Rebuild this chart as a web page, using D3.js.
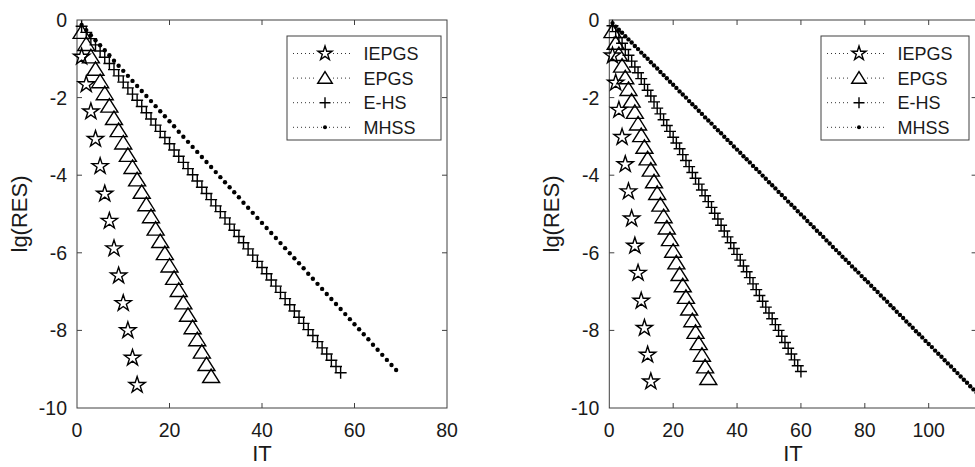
<!DOCTYPE html>
<html>
<head>
<meta charset="utf-8">
<script src="https://cdn.jsdelivr.net/npm/d3@7"></script>
<style>
  body { margin: 0; background: white; }
  svg { display: block; font-family: "Liberation Sans", Arial, sans-serif; }
</style>
</head>
<body>
<div id="winArea"></div>
<script>
// series names and tick values
const seriesNames = ["IEPGS", "EPGS", "E-HS", "MHSS"];
const yTicks = [0, -2, -4, -6, -8, -10];
const xTicksLeft = [0, 20, 40, 60, 80];
const xTicksRight = [0, 20, 40, 60, 80, 100];

// lg(RES) per iteration (iteration = index + 1), left panel
const iepgsLeft = [-0.95, -1.66, -2.36, -3.07, -3.77, -4.48, -5.18, -5.89, -6.59, -7.30, -8.00, -8.71, -9.41];
const epgsLeft = [-0.32, -0.63, -0.95, -1.27, -1.59, -1.90, -2.22, -2.54, -2.85, -3.17, -3.49, -3.80, -4.12, -4.44, -4.76,
  -5.07, -5.39, -5.71, -6.02, -6.34, -6.66, -6.97, -7.29, -7.61, -7.93, -8.24, -8.56, -8.88, -9.19];
const ehsLeft = [-0.16, -0.32, -0.48, -0.64, -0.80, -0.96, -1.12, -1.28, -1.44, -1.60, -1.75, -1.91, -2.07, -2.23, -2.39,
  -2.55, -2.71, -2.87, -3.03, -3.19, -3.35, -3.51, -3.67, -3.83, -3.99, -4.15, -4.31, -4.47, -4.63, -4.79,
  -4.94, -5.10, -5.26, -5.42, -5.58, -5.74, -5.90, -6.06, -6.22, -6.38, -6.54, -6.70, -6.86, -7.02, -7.18,
  -7.34, -7.50, -7.66, -7.82, -7.98, -8.13, -8.29, -8.45, -8.61, -8.77, -8.93, -9.09];
const mhssLeft = [-0.13, -0.26, -0.39, -0.52, -0.65, -0.78, -0.91, -1.05, -1.18, -1.31, -1.44, -1.57, -1.70, -1.83, -1.96,
  -2.09, -2.22, -2.35, -2.48, -2.61, -2.74, -2.88, -3.01, -3.14, -3.27, -3.40, -3.53, -3.66, -3.79, -3.92,
  -4.05, -4.18, -4.31, -4.44, -4.57, -4.71, -4.84, -4.97, -5.10, -5.23, -5.36, -5.49, -5.62, -5.75, -5.88,
  -6.01, -6.14, -6.27, -6.40, -6.54, -6.67, -6.80, -6.93, -7.06, -7.19, -7.32, -7.45, -7.58, -7.71, -7.84,
  -7.97, -8.10, -8.23, -8.37, -8.50, -8.63, -8.76, -8.89, -9.02];

// right panel
const iepgsRight = [-0.92, -1.62, -2.32, -3.02, -3.72, -4.42, -5.12, -5.82, -6.52, -7.24, -7.94, -8.63, -9.32];
const epgsRight = [-0.30, -0.60, -0.89, -1.19, -1.49, -1.79, -2.09, -2.38, -2.68, -2.98, -3.28, -3.58, -3.87, -4.17, -4.47,
  -4.77, -5.07, -5.36, -5.66, -5.96, -6.26, -6.56, -6.85, -7.15, -7.45, -7.75, -8.05, -8.34, -8.64, -8.94, -9.24];
const ehsRight = [-0.15, -0.30, -0.45, -0.60, -0.76, -0.91, -1.06, -1.21, -1.36, -1.51, -1.66, -1.81, -1.96, -2.11, -2.27,
  -2.42, -2.57, -2.72, -2.87, -3.02, -3.17, -3.32, -3.47, -3.62, -3.78, -3.93, -4.08, -4.23, -4.38, -4.53,
  -4.68, -4.83, -4.98, -5.13, -5.29, -5.44, -5.59, -5.74, -5.89, -6.04, -6.19, -6.34, -6.49, -6.64, -6.80,
  -6.95, -7.10, -7.25, -7.40, -7.55, -7.70, -7.85, -8.00, -8.15, -8.31, -8.46, -8.61, -8.76, -8.91, -9.06];
const mhssRight = [-0.08, -0.17, -0.25, -0.33, -0.42, -0.50, -0.58, -0.67, -0.75, -0.84, -0.92, -1.00, -1.09, -1.17, -1.25,
  -1.34, -1.42, -1.50, -1.59, -1.67, -1.75, -1.84, -1.92, -2.00, -2.09, -2.17, -2.25, -2.34, -2.42, -2.51,
  -2.59, -2.67, -2.76, -2.84, -2.92, -3.01, -3.09, -3.17, -3.26, -3.34, -3.42, -3.51, -3.59, -3.67, -3.76,
  -3.84, -3.92, -4.01, -4.09, -4.18, -4.26, -4.34, -4.43, -4.51, -4.59, -4.68, -4.76, -4.84, -4.93, -5.01,
  -5.09, -5.18, -5.26, -5.34, -5.43, -5.51, -5.59, -5.68, -5.76, -5.85, -5.93, -6.01, -6.10, -6.18, -6.26,
  -6.35, -6.43, -6.51, -6.60, -6.68, -6.76, -6.85, -6.93, -7.01, -7.10, -7.18, -7.26, -7.35, -7.43, -7.52,
  -7.60, -7.68, -7.77, -7.85, -7.93, -8.02, -8.10, -8.18, -8.27, -8.35, -8.43, -8.52, -8.60, -8.68, -8.77,
  -8.85, -8.93, -9.02, -9.10, -9.19, -9.27, -9.35, -9.44, -9.52, -9.60];

const W = 975, H = 467;
const axisColor = "#404040";
const textColor = "#1a1a1a";

const svg = d3.select("#winArea")
  .append("svg")
  .attr("width", W)
  .attr("height", H);

// marker shapes (MATLAB style: pentagram, triangle, plus, point)
const starPath = d3.symbol().type(d3.symbolStar).size(82)();
const starPathSmall = d3.symbol().type(d3.symbolStar).size(62)();
const triPath = "M0,-7.5L8.5,6L-8.5,6Z";
const triPathSmall = "M0,-6.5L7.3,5.2L-7.3,5.2Z";
const plusPath = "M-6,0H6M0,-6V6";
const plusPathSmall = "M-5.5,0H5.5M0,-5.5V5.5";

function drawMarkers(g, kind, values, x, y, small) {
  const pts = values.map((v, i) => ({ it: i + 1, v: v }));
  if (kind === "MHSS") {
    g.append("g").selectAll("circle")
      .data(pts)
      .join("circle")
      .attr("cx", d => x(d.it))
      .attr("cy", d => y(d.v))
      .attr("r", small ? 2 : 2.2)
      .attr("fill", "black");
    return;
  }
  let p;
  if (kind === "IEPGS") p = small ? starPathSmall : starPath;
  if (kind === "EPGS") p = small ? triPathSmall : triPath;
  if (kind === "E-HS") p = small ? plusPathSmall : plusPath;
  g.append("g").selectAll("path")
    .data(pts)
    .join("path")
    .attr("transform", d => `translate(${x(d.it)},${y(d.v)})`)
    .attr("d", p)
    .attr("fill", "none")
    .attr("stroke", "black")
    .attr("stroke-width", 1.4)
    .attr("stroke-linejoin", "miter");
}

function drawPanel(opt) {
  const g = svg.append("g");

  const x = d3.scaleLinear().domain(opt.xDomain).range([opt.left, opt.right]);
  const y = d3.scaleLinear().domain([-10, 0]).range([408, 20]);

  // box
  g.append("rect")
    .attr("x", opt.left).attr("y", 20)
    .attr("width", opt.right - opt.left).attr("height", 388)
    .attr("fill", "none")
    .attr("stroke", axisColor)
    .attr("stroke-width", 1);

  // ticks inside, on all four sides
  g.append("g").selectAll("line")
    .data(opt.xTicks.filter(t => t > opt.xDomain[0] && t < opt.xDomain[1]))
    .join(enter => {
      const s = enter.append("g");
      s.append("line").attr("x1", d => x(d)).attr("x2", d => x(d)).attr("y1", 408).attr("y2", 403);
      s.append("line").attr("x1", d => x(d)).attr("x2", d => x(d)).attr("y1", 20).attr("y2", 25);
      return s;
    })
    .selectAll("line").attr("stroke", axisColor);

  g.append("g").selectAll("g")
    .data(yTicks.filter(t => t > -10 && t < 0))
    .join(enter => {
      const s = enter.append("g");
      s.append("line").attr("x1", opt.left).attr("x2", opt.left + 5).attr("y1", d => y(d)).attr("y2", d => y(d));
      s.append("line").attr("x1", opt.right).attr("x2", opt.right - 5).attr("y1", d => y(d)).attr("y2", d => y(d));
      return s;
    })
    .selectAll("line").attr("stroke", axisColor);

  // tick labels
  g.append("g").selectAll("text")
    .data(opt.xTicks)
    .join("text")
    .attr("x", d => x(d))
    .attr("y", 437)
    .attr("text-anchor", "middle")
    .style("font-size", "19.5px")
    .style("fill", textColor)
    .text(d => d);

  g.append("g").selectAll("text")
    .data(yTicks)
    .join("text")
    .attr("x", opt.left - 10)
    .attr("y", d => y(d) + 7)
    .attr("text-anchor", "end")
    .style("font-size", "19.5px")
    .style("fill", textColor)
    .text(d => d);

  // axis labels
  g.append("text")
    .attr("x", (opt.left + opt.right) / 2)
    .attr("y", 461)
    .attr("text-anchor", "middle")
    .style("font-size", "22px")
    .style("fill", textColor)
    .text("IT");

  g.append("text")
    .attr("transform", `translate(${opt.left - 50},214) rotate(-90)`)
    .attr("text-anchor", "middle")
    .style("font-size", "22px")
    .style("fill", textColor)
    .text("lg(RES)");

  // data markers, MHSS first so the bigger markers sit on top
  drawMarkers(g, "MHSS", opt.mhss, x, y, false);
  drawMarkers(g, "E-HS", opt.ehs, x, y, false);
  drawMarkers(g, "EPGS", opt.epgs, x, y, false);
  drawMarkers(g, "IEPGS", opt.iepgs, x, y, false);

  // legend
  const lg = g.append("g").attr("transform", `translate(${opt.legendX},36)`);
  lg.append("rect")
    .attr("x", 0).attr("y", 0)
    .attr("width", opt.legendW).attr("height", 104)
    .attr("fill", "white")
    .attr("stroke", axisColor)
    .attr("stroke-width", 1);

  const rows = lg.selectAll("g.row")
    .data(seriesNames)
    .join("g")
    .attr("class", "row")
    .attr("transform", (d, i) => `translate(0, ${17.5 + i * 24.6})`);

  rows.append("line")
    .attr("x1", 6).attr("x2", 66)
    .attr("y1", 0).attr("y2", 0)
    .attr("stroke", "#333")
    .attr("stroke-width", 1)
    .attr("stroke-dasharray", "1,3");

  rows.each(function (d) {
    const r = d3.select(this);
    if (d === "MHSS") {
      r.append("circle").attr("cx", 38).attr("cy", 0).attr("r", 2).attr("fill", "black");
    } else {
      let p = d === "IEPGS" ? starPathSmall : d === "EPGS" ? triPathSmall : plusPathSmall;
      r.append("rect").attr("x", 30).attr("y", -7).attr("width", 16).attr("height", 14).attr("fill", "white");
      r.append("path")
        .attr("transform", "translate(38,0)")
        .attr("d", p)
        .attr("fill", "none")
        .attr("stroke", "black")
        .attr("stroke-width", 1.4);
    }
  });

  rows.append("text")
    .attr("x", 76.5)
    .attr("y", 6.5)
    .style("font-size", "18px")
    .style("fill", textColor)
    .text(d => d);
}

drawPanel({
  left: 77, right: 447, xDomain: [0, 80], xTicks: xTicksLeft,
  iepgs: iepgsLeft, epgs: epgsLeft, ehs: ehsLeft, mhss: mhssLeft,
  legendX: 287, legendW: 154
});

drawPanel({
  left: 609.3, right: 976.6, xDomain: [0, 115], xTicks: xTicksRight,
  iepgs: iepgsRight, epgs: epgsRight, ehs: ehsRight, mhss: mhssRight,
  legendX: 821, legendW: 148
});
</script>
</body>
</html>
